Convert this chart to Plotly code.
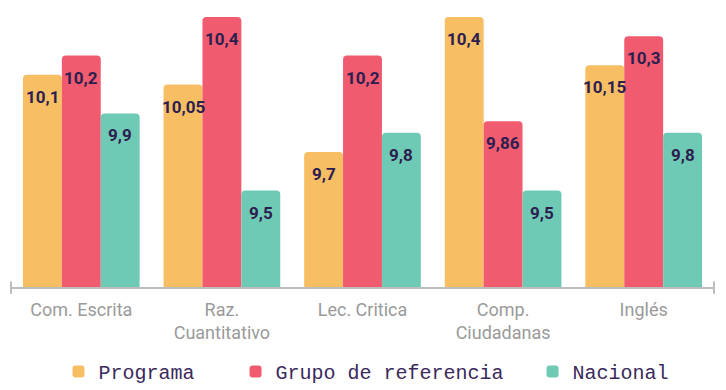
import plotly.graph_objects as go

categories = ["Com. Escrita", "Raz.<br>Cuantitativo", "Lec. Critica", "Comp.<br>Ciudadanas", "Inglés"]
series_names = ["Programa", "Grupo de referencia", "Nacional"]
programa = [10.1, 10.05, 9.7, 10.4, 10.15]
grupo = [10.2, 10.4, 10.2, 9.86, 10.3]
nacional = [9.9, 9.5, 9.8, 9.5, 9.8]
labels_programa = ["10,1", "10,05", "9,7", "10,4", "10,15"]
labels_grupo = ["10,2", "10,4", "10,2", "9,86", "10,3"]
labels_nacional = ["9,9", "9,5", "9,8", "9,5", "9,8"]

colors = ["#F8BE64", "#F05B6F", "#6FCAB5"]
text_color = "#2D1E50"

W, H = 726, 390
ml, mr, mt, mb = 11, 12, 17, 103
bargap = 0.17
plot_w = W - ml - mr
cat_w = plot_w / len(categories)
bar_w = cat_w * (1 - bargap) / 3

legend_pad = ["\u00a0\u00a0\u00a0", "\u00a0\u00a0", ""]

fig = go.Figure()
all_vals = [programa, grupo, nacional]
all_labels = [labels_programa, labels_grupo, labels_nacional]
for name, pad, vals, col in zip(series_names, legend_pad, all_vals, colors):
    fig.add_trace(go.Bar(
        name=name + pad, x=categories, y=vals,
        marker=dict(color=col, line=dict(width=0)),
        hoverinfo="skip",
    ))

annotations = []
for i, (vals, labs) in enumerate(zip(all_vals, all_labels)):
    for c, v, t in zip(categories, vals, labs):
        annotations.append(dict(
            x=c, y=v, text=t, showarrow=False,
            xshift=(i - 1) * bar_w, yshift=-22,
            font=dict(family="Roboto", size=17, color=text_color, weight="bold"),
            xanchor="center", yanchor="middle",
        ))

fig.update_layout(
    width=W, height=H,
    margin=dict(l=ml, r=mr, t=mt, b=mb, autoexpand=False),
    barmode="group", bargap=bargap, bargroupgap=0,
    barcornerradius=4,
    plot_bgcolor="white", paper_bgcolor="white",
    annotations=annotations,
    showlegend=True,
    legend=dict(
        orientation="h", x=0.5 + 4 / plot_w, xanchor="center", y=-0.313, yanchor="middle",
        font=dict(family="Liberation Mono", size=20, color="#3A2A5C"),
        itemsizing="constant", itemwidth=30, tracegroupgap=0,
    ),
    xaxis=dict(
        showline=True, linecolor="#BDBDBD", linewidth=2,
        ticks="", showgrid=False, zeroline=False,
        tickfont=dict(family="Roboto", size=18, color="#9A9A9A"),
        ticklabelstandoff=5,
        range=[-0.5, 4.5],
    ),
    yaxis=dict(
        range=[9.0, 10.4], visible=False, showgrid=False, zeroline=False,
    ),
    shapes=[
        dict(type="line", xref="paper", yref="paper", x0=0, x1=0, y0=-0.025, y1=0.02,
             line=dict(color="#BDBDBD", width=2)),
        dict(type="line", xref="paper", yref="paper", x0=1, x1=1, y0=-0.025, y1=0.02,
             line=dict(color="#BDBDBD", width=2)),
    ],
)

fig.write_html("out.html", config={"displayModeBar": False},
               post_script="document.body.style.margin='0';")
